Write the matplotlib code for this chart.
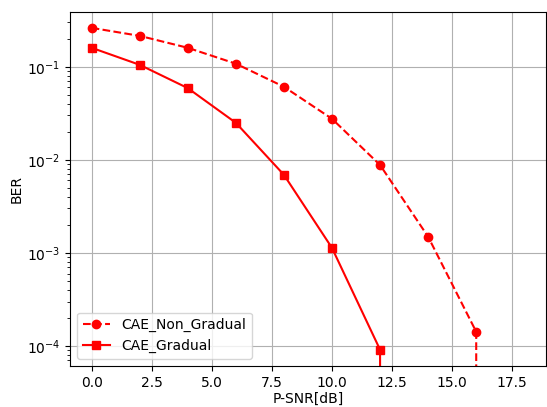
import matplotlib
matplotlib.use('Agg')
import matplotlib.pyplot as plt

# P-SNR values in dB
snr = [0, 2, 4, 6, 8, 10, 12, 14, 16, 18]

# BER values (0 = no errors)
ber_non_gradual = [0.262, 0.215, 0.16, 0.108, 0.061, 0.0276, 0.0088, 0.00149, 1.42e-4, 0]
ber_gradual = [0.16, 0.105, 0.059, 0.025, 0.0069, 0.00113, 9.1e-5, 0, 0, 0]

fig = plt.figure(figsize=(5.47, 4.07), dpi=100)
ax = fig.add_subplot(111)
fig.subplots_adjust(left=0.128, right=0.998, top=0.971, bottom=0.101)

ax.semilogy(snr, ber_non_gradual, 'r--o', label='CAE_Non_Gradual')
ax.semilogy(snr, ber_gradual, 'r-s', label='CAE_Gradual')

ax.set_ylim(6.1e-5, 0.39)
ax.set_xlim(-0.9, 18.9)
ax.set_xlabel('P-SNR[dB]', labelpad=1.5)
ax.set_ylabel('BER', labelpad=2)
ax.grid(True)
ax.legend(loc='lower left')

fig.savefig('out.png', dpi=100)
